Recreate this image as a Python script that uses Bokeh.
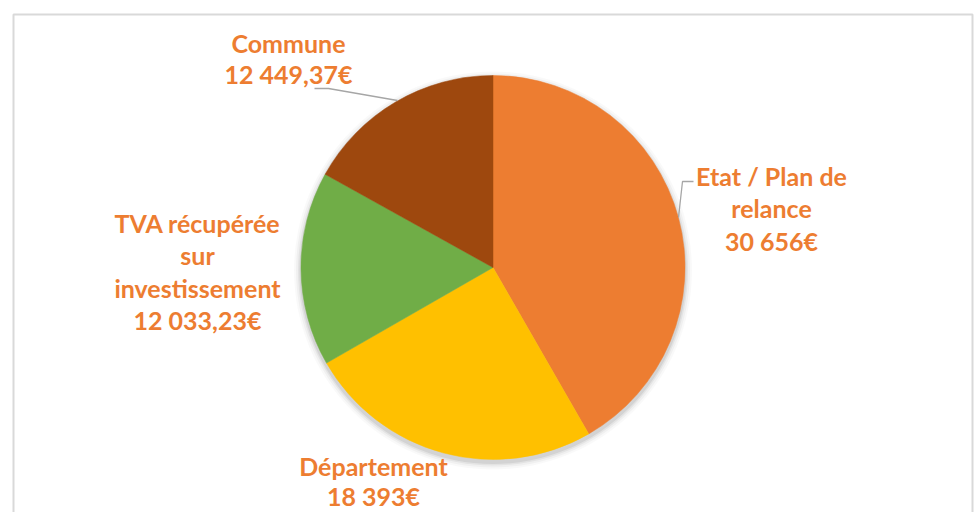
import numpy as np
from bokeh.plotting import figure
from bokeh.models import Range1d, ColumnDataSource
from bokeh.core.properties import value
from bokeh.embed import file_html
from bokeh.resources import INLINE

# ---- data ----
categories = ["Etat / Plan de relance", "Département", "TVA récupérée sur investissement", "Commune"]
amounts = [30656.0, 18393.0, 12033.23, 12449.37]
amount_labels = ["30 656€", "18 393€", "12 033,23€", "12 449,37€"]
label_lines = [["Etat / Plan de", "relance"], ["Département"], ["TVA récupérée", "sur", "investissement"], ["Commune"]]
colors = ["#ED7D31", "#FFC000", "#70AD47", "#9E480E"]

# ---- layout (screen-like data space: 1 unit = 1 px) ----
W, H = 978, 512
cx, cy, R = 492.5, 245.0, 192.0
label_anchor = [(771, 337), (373, 47), (197, 290), (288, 470)]  # top line centre of each label
line_steps = [32.5, 30.5, 32.5, 31.0]

p = figure(width=W, height=H, output_backend="svg", toolbar_location=None,
           x_range=Range1d(0, W), y_range=Range1d(0, H), min_border=0)
p.axis.visible = False
p.grid.visible = False
p.outline_line_color = None
p.background_fill_color = "white"
p.border_fill_color = "white"

# outer chart border
p.line([13, 13, 972, 972], [-10, 498, 498, -10], line_color="#D9D9D9", line_width=2)

# soft shadow
for dr, a in [(7, 0.025), (5, 0.035), (3, 0.05), (1.5, 0.07)]:
    p.circle(x=[cx], y=[cy - 3], radius=R + dr, fill_color="#000000", fill_alpha=a, line_color=None)

# wedges, clockwise from 12 o'clock
vals = np.array(amounts)
frac = vals / vals.sum()
ends = np.pi / 2 - 2 * np.pi * np.cumsum(frac)
starts = np.concatenate([[np.pi / 2], ends[:-1]])
src = ColumnDataSource(dict(start=starts, end=ends, color=colors))
p.wedge(x=cx, y=cy, radius=R, start_angle="start", end_angle="end", direction="clock",
        fill_color="color", line_color="color", line_width=0.5, source=src)

# leader lines
p.line([314, 328, 397], [424, 424, 412], line_color="#A6A6A6", line_width=1.3)
p.line([693, 682, 678], [331, 331, 295], line_color="#A6A6A6", line_width=1.3)

# labels
xs, ys, ts = [], [], []
for (ax, ay), lines, amt, step in zip(label_anchor, label_lines, amount_labels, line_steps):
    for i, t in enumerate(lines + [amt]):
        xs.append(ax)
        ys.append(ay - i * step)
        ts.append(t)
p.text(x=xs, y=ys, text=ts, text_align="center", text_baseline="middle",
       text_font=value("Lato"), text_font_style="bold", text_font_size="25px",
       text_color="#ED7D31")

open("out.html", "w").write(file_html(p, INLINE))
